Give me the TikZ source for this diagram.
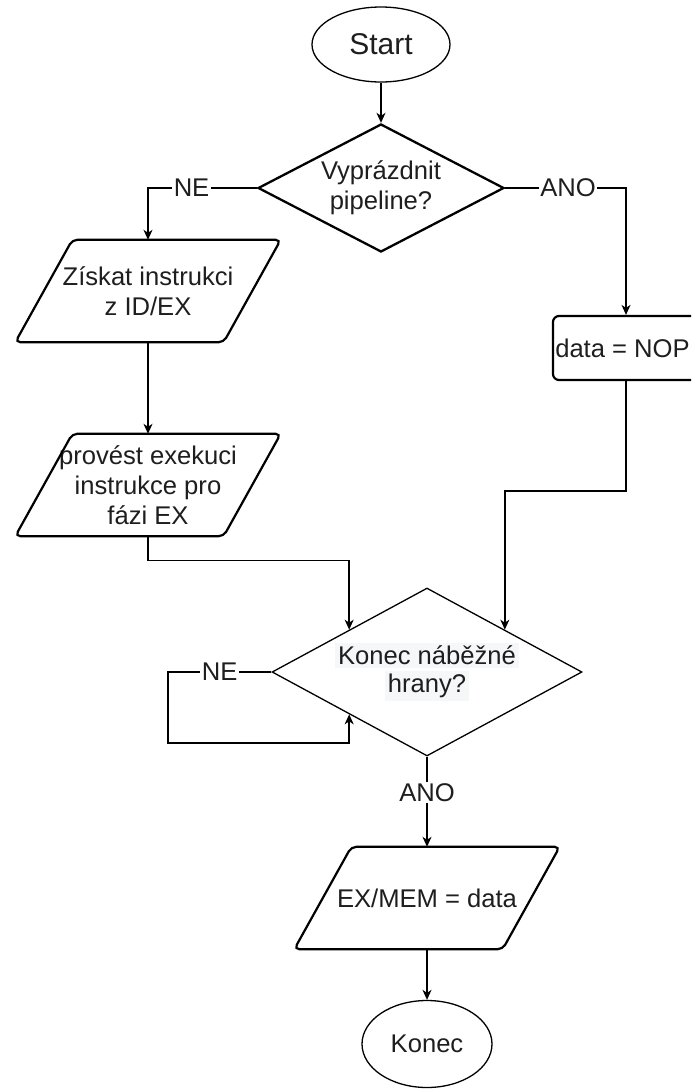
\documentclass[tikz,border=0pt]{standalone}
\usepackage{fontspec}
\setmainfont{Liberation Sans}
\usetikzlibrary{shapes.geometric,arrows.meta}
\definecolor{ink}{HTML}{1E1E1E}
\definecolor{hl}{HTML}{F5F7F9}
% parallelogram drawn around a rectangular node
\newcommand\ioshape[1]{%
  \draw[ioline] ([xshift=28.5pt]#1.north west) -- ([xshift=28.5pt]#1.north east)
    -- ([xshift=-28.5pt]#1.south east) -- ([xshift=-28.5pt]#1.south west) -- cycle;}
\begin{document}
\begin{tikzpicture}[x=1pt,y=-1pt,
  every node/.style={text=ink, font=\fontsize{25.6}{30}\selectfont, align=center},
  terminal/.style={ellipse, draw, line width=1.3pt, inner sep=0pt},
  decision/.style={diamond, draw, inner sep=0pt, shape aspect=2},
  iobox/.style={rectangle, inner sep=0pt, minimum width=208pt, minimum height=102pt},
  ioline/.style={draw, line width=2.2pt, rounded corners=5pt},
  procbox/.style={rectangle, draw, line width=2.2pt, rounded corners=6pt, inner sep=0pt},
  arr/.style={draw, line width=1.4pt, -{Stealth[length=10pt,width=9pt,inset=3pt]}},
  lbl/.style={fill=white, inner sep=1.5pt}]
\useasboundingbox (0,0) rectangle (691,1090);
\clip (0,0) rectangle (691,1090);

% shapes
\node[terminal, minimum width=138pt, minimum height=75pt,
      font=\fontsize{30}{34}\selectfont] (start) at (381,44.5) {Start};
\node[decision, line width=2.3pt, minimum width=246pt, minimum height=128pt]
      (d1) at (381,188) {Vyprázdnit\\pipeline?};
\node[iobox] (p1) at (148,291) {Získat instrukci\\z ID/EX};
\ioshape{p1}
\node[procbox, minimum width=146pt, minimum height=64pt] (nop) at (626,348)
      {data = NOP\hspace*{7pt}};
\node[iobox] (p2) at (148,485) {provést exekuci\\instrukce pro\\fázi EX};
\ioshape{p2}
\node[decision, line width=1.3pt, minimum width=310pt, minimum height=168pt]
      (d2) at (427,672) {\colorbox{hl}{Konec náběžné}\\[-2pt]\colorbox{hl}{hrany?}};
\node[iobox] (p3) at (427,898) {EX/MEM = data};
\ioshape{p3}
\node[terminal, minimum width=130pt, minimum height=87pt] (konec) at (427,1044) {Konec};

% connectors
\draw[arr] (start.south) -- (d1.north);
\draw[arr] (d1.west) -| node[lbl, pos=0.3] {NE} (p1.north);
\draw[arr] (d1.east) -| node[lbl, pos=0.26] {ANO} (nop.north);
\draw[arr] (p1.south) -- (p2.north);
\draw[arr] (nop.south) -- ++(0,110) -| (d2.north east);
\draw[arr] (p2.south) -- ++(0,24) -| (d2.north west);
\coordinate (loop) at (168,743);
\draw[arr] (d2.west) -| node[lbl, pos=0.25] {NE} (loop) -| (d2.south west);
\draw[arr] (d2.south) -- node[lbl, pos=0.4] {ANO} (p3.north);
\draw[arr] (p3.south) -- (konec.north);
\end{tikzpicture}
\end{document}
